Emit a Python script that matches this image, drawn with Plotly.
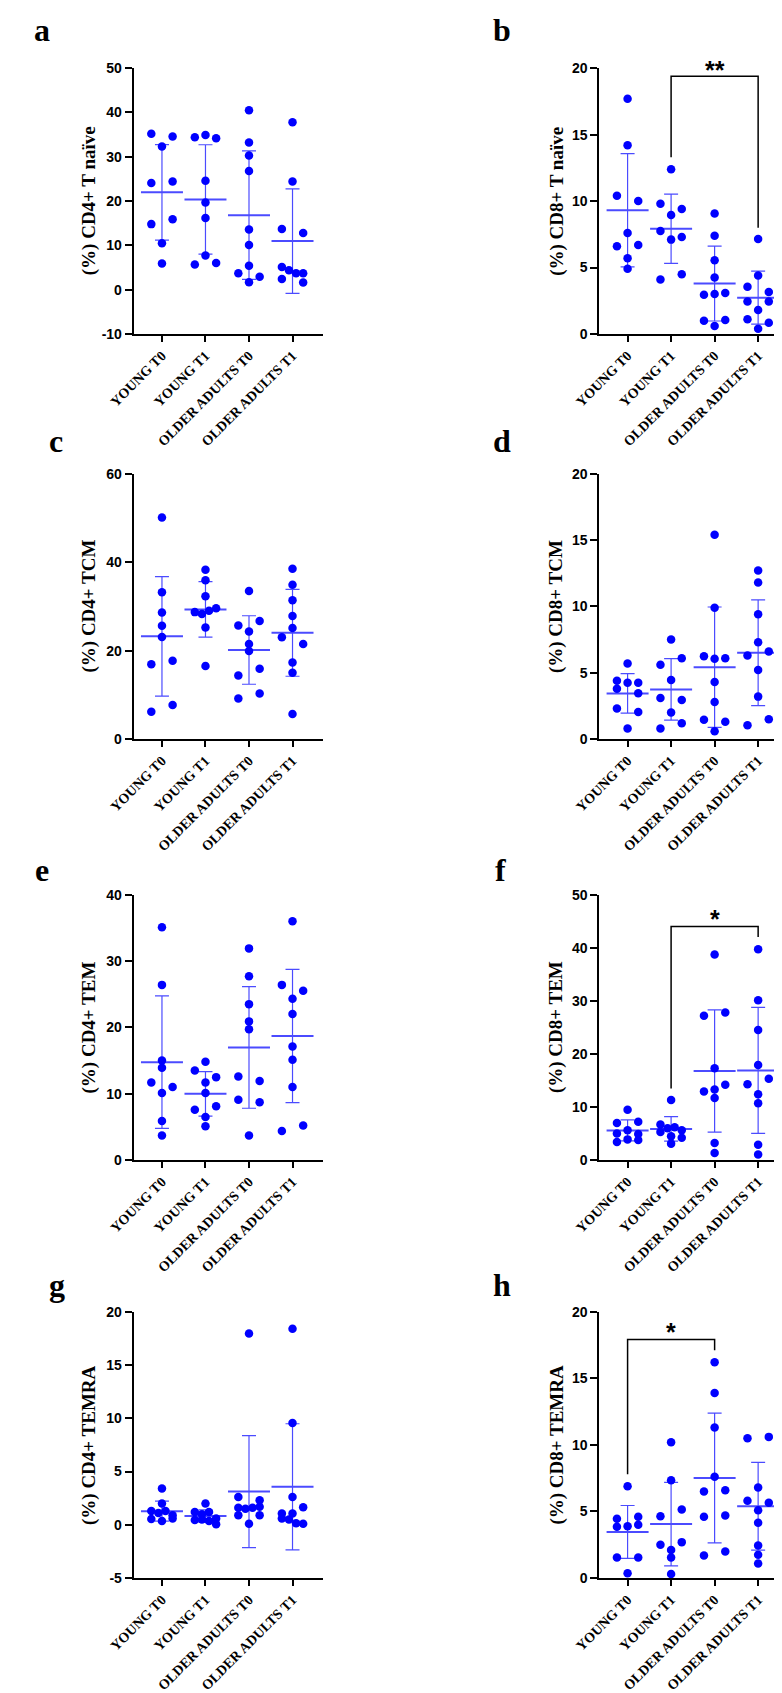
import numpy as np
import plotly.graph_objects as go

# groups on every x axis
GROUPS = ["YOUNG T0", "YOUNG T1", "OLDER ADULTS T0", "OLDER ADULTS T1"]

# values (% of parent population), one list per group
CD4_NAIVE = [
    [35.2, 34.6, 32.3, 24.1, 24.4, 14.8, 15.9, 10.5, 5.9],
    [34.4, 34.9, 34.2, 24.6, 19.7, 16.2, 7.7, 5.7, 6.0],
    [40.5, 33.2, 30.3, 26.8, 13.6, 10.1, 3.7, 5.4, 1.7, 2.9],
    [37.8, 24.4, 13.7, 12.8, 5.1, 4.4, 3.7, 2.4, 3.7, 1.6],
]
CD8_NAIVE = [
    [17.7, 14.2, 10.4, 10.0, 7.6, 6.6, 6.7, 5.7, 4.9],
    [12.4, 9.8, 9.4, 8.95, 7.75, 7.1, 7.3, 4.1, 4.5],
    [9.07, 7.4, 5.55, 4.25, 2.95, 3.0, 3.08, 1.0, 0.6, 1.05],
    [7.15, 4.4, 3.55, 3.15, 2.45, 2.45, 1.8, 1.1, 0.4, 0.85],
]
CD4_TCM = [
    [50.1, 33.2, 28.6, 25.6, 23.1, 16.9, 17.7, 6.2, 7.7],
    [38.3, 35.9, 32.3, 28.7, 28.3, 29.0, 29.6, 25.2, 16.5],
    [33.5, 25.7, 26.7, 24.3, 21.5, 19.9, 14.4, 15.9, 9.2, 10.3],
    [38.5, 34.9, 31.4, 27.8, 25.1, 23.0, 21.5, 17.3, 15.0, 5.7],
]
CD8_TCM = [
    [5.7, 4.4, 4.25, 4.25, 3.8, 3.45, 2.3, 2.05, 0.8],
    [7.5, 5.6, 6.1, 4.45, 3.1, 2.95, 2.0, 0.8, 1.2],
    [15.4, 9.9, 6.25, 6.05, 6.1, 4.3, 2.8, 1.45, 1.3, 0.6],
    [12.7, 11.8, 9.4, 7.3, 6.3, 6.6, 5.2, 3.2, 1.05, 1.5],
]
CD4_TEM = [
    [35.1, 26.4, 13.9, 15.0, 11.7, 10.1, 11.0, 5.9, 3.7],
    [14.8, 13.5, 12.5, 11.7, 10.1, 7.6, 8.1, 6.5, 5.1],
    [31.9, 27.7, 23.5, 20.9, 19.7, 12.6, 11.9, 9.1, 8.7, 3.7],
    [36.0, 26.4, 25.5, 24.3, 22.0, 17.1, 15.1, 11.0, 4.4, 5.2],
]
CD8_TEM = [
    [9.5, 7.0, 7.2, 5.0, 5.6, 4.9, 3.4, 3.9, 3.8],
    [11.3, 6.7, 6.0, 6.2, 5.6, 5.3, 4.5, 4.2, 3.1],
    [38.7, 27.2, 27.8, 17.3, 12.9, 13.3, 14.2, 11.7, 3.2, 1.35],
    [39.7, 30.1, 24.5, 17.9, 14.3, 15.3, 12.4, 10.7, 2.9, 1.05],
]
CD4_TEMRA = [
    [3.4, 2.0, 1.3, 1.1, 1.3, 0.55, 0.9, 0.35, 0.6],
    [2.0, 1.2, 1.0, 1.2, 0.45, 0.6, 0.5, 0.35, 0.05],
    [17.95, 2.6, 2.3, 1.6, 1.5, 1.6, 1.7, 0.9, 0.9, 0.1],
    [18.4, 9.55, 2.6, 1.05, 1.05, 1.65, 0.6, 0.5, 0.15, 0.1],
]
CD8_TEMRA = [
    [6.9, 4.45, 4.6, 3.85, 3.9, 4.0, 1.55, 1.55, 0.37],
    [10.2, 7.35, 4.65, 5.15, 2.5, 2.7, 2.1, 1.55, 0.3],
    [16.2, 13.9, 11.3, 7.6, 6.5, 6.6, 4.6, 4.7, 1.7, 2.0],
    [10.5, 10.6, 6.8, 5.8, 5.65, 5.1, 4.15, 2.45, 1.75, 1.1],
]

BLUE = "#0000ff"
BAR_BLUE = "#4b4bff"
SANS = "Liberation Sans, Arial, sans-serif"
SERIF = "Liberation Serif, Times New Roman, serif"

PANELS = [
    dict(tag="a", title="(%) CD4+ T naïve", data=CD4_NAIVE, yrange=[-10, 50], dtick=10),
    dict(tag="b", title="(%) CD8+ T naïve", data=CD8_NAIVE, yrange=[0, 20], dtick=5),
    dict(tag="c", title="(%) CD4+ TCM", data=CD4_TCM, yrange=[0, 60], dtick=20),
    dict(tag="d", title="(%) CD8+ TCM", data=CD8_TCM, yrange=[0, 20], dtick=5),
    dict(tag="e", title="(%) CD4+ TEM", data=CD4_TEM, yrange=[0, 40], dtick=10),
    dict(tag="f", title="(%) CD8+ TEM", data=CD8_TEM, yrange=[0, 50], dtick=10),
    dict(tag="g", title="(%) CD4+ TEMRA", data=CD4_TEMRA, yrange=[-5, 20], dtick=5),
    dict(tag="h", title="(%) CD8+ TEMRA", data=CD8_TEMRA, yrange=[0, 20], dtick=5),
]

# significance brackets: (left group, right group, left foot, top, right foot, label, label y)
BRACKETS = {
    "b": (1, 3, 13.3, 19.4, 8.0, "**", 19.9),
    "f": (1, 3, 13.5, 44.0, 42.0, "*", 45.4),
    "h": (0, 2, 7.8, 17.9, 17.1, "*", 18.5),
}

# page geometry in pixels
W, H = 782, 1693
COL_X = [(104, 300), (585, 781)]
ROW_Y = [(52.7, 321), (462, 730), (887, 1155), (1308, 1577)]
X_RANGE = [-0.65, 3.71]
TITLE_X = [58, 541]
LETTER_XY = {"a": (9, 14), "b": (485, 14), "c": (24, 429), "d": (485, 429),
             "e": (9, 862), "f": (483, 862), "g": (25, 1281), "h": (485, 1281)}


def swarm_offsets(values, px_per_unit, px_per_cat, thresh=7.0, spread=11.0):
    """Prism-like scatter: near-equal values share a row spread over +-spread px."""
    order = sorted(range(len(values)), key=lambda i: -values[i])
    rows, row = [], []
    for i in order:
        if row and (values[row[0]] - values[i]) * px_per_unit >= thresh:
            rows.append(row)
            row = []
        row.append(i)
    rows.append(row)
    offs = [0.0] * len(values)
    for row in rows:
        row = sorted(row)
        n = len(row)
        for k, i in enumerate(row):
            px = 0.0 if n == 1 else -spread + 2 * spread * k / (n - 1)
            offs[i] = px / px_per_cat
    return offs


fig = go.Figure()
layout = {}
annotations = []
shapes = []

for p, panel in enumerate(PANELS):
    ax = p + 1
    col, row = p % 2, p // 2
    left, right = COL_X[col]
    top, bottom = ROW_Y[row]
    xa, ya = ("x", "y") if ax == 1 else (f"x{ax}", f"y{ax}")
    y0, y1 = panel["yrange"]
    px_per_unit = (bottom - top) / (y1 - y0)
    px_per_cat = (right - left) / (X_RANGE[1] - X_RANGE[0])
    dom_lo, dom_hi = 1 - bottom / H, 1 - top / H

    for g, vals in enumerate(panel["data"]):
        v = np.array(vals)
        mean, sd = v.mean(), v.std(ddof=1)
        fig.add_trace(go.Scatter(
            x=[g], y=[mean], mode="markers", xaxis=xa, yaxis=ya,
            marker=dict(symbol="line-ew", size=30, color=BAR_BLUE,
                        line=dict(width=2, color=BAR_BLUE)),
            error_y=dict(type="data", array=[sd], visible=True, width=7,
                         thickness=1.2, color=BAR_BLUE),
            showlegend=False, hoverinfo="skip", cliponaxis=False,
        ))
        offs = swarm_offsets(vals, px_per_unit, px_per_cat)
        fig.add_trace(go.Scatter(
            x=[g + o for o in offs], y=vals, mode="markers", xaxis=xa, yaxis=ya,
            marker=dict(size=8.5, color=BLUE), showlegend=False, cliponaxis=False,
        ))

    tickvals = list(range(y0, y1 + 1, panel["dtick"]))
    key = "" if ax == 1 else str(ax)
    layout[f"xaxis{key}"] = dict(
        domain=[left / W, right / W], range=X_RANGE, anchor=ya,
        tickvals=[0, 1, 2, 3], ticktext=GROUPS, tickangle=-45,
        ticks="outside", ticklen=6, tickwidth=2, tickcolor="black",
        showline=True, linewidth=2, linecolor="black",
        showgrid=False, zeroline=False,
        tickfont=dict(family=SERIF, size=14, color="black", weight="bold"),
    )
    layout[f"yaxis{key}"] = dict(
        domain=[dom_lo, dom_hi], range=panel["yrange"], anchor=xa,
        tickvals=tickvals, ticktext=[str(t) for t in tickvals],
        ticks="outside", ticklen=7, tickwidth=2, tickcolor="black",
        showline=True, linewidth=2, linecolor="black",
        showgrid=False, zeroline=False,
        tickfont=dict(family=SANS, size=14, color="black", weight="bold"),
    )

    annotations.append(dict(
        text=panel["title"], textangle=-90, xref="paper", yref="paper",
        x=TITLE_X[col] / W, y=(dom_lo + dom_hi) / 2,
        xanchor="center", yanchor="middle", showarrow=False,
        font=dict(family=SERIF, size=19, color="black", weight="bold"),
    ))
    lx, ly = LETTER_XY[panel["tag"]]
    annotations.append(dict(
        text=panel["tag"], xref="paper", yref="paper", x=lx / W, y=1 - ly / H,
        xanchor="center", yanchor="middle", showarrow=False,
        font=dict(family=SERIF, size=32, color="black", weight="bold"),
    ))

    if panel["tag"] in BRACKETS:
        ga, gb, foot_a, top_y, foot_b, label, label_y = BRACKETS[panel["tag"]]
        shapes.append(dict(
            type="path", xref=xa, yref=ya,
            path=f"M {ga},{foot_a} L {ga},{top_y} L {gb},{top_y} L {gb},{foot_b}",
            line=dict(color="black", width=1.5),
        ))
        # label sits above the axis range, so place it in paper units
        annotations.append(dict(
            text=label, xref=xa, yref="paper", x=(ga + gb) / 2,
            y=dom_lo + (label_y - y0) / (y1 - y0) * (dom_hi - dom_lo),
            xanchor="center", yanchor="middle", showarrow=False,
            font=dict(family=SANS, size=25, color="black", weight="bold"),
        ))

fig.update_layout(
    width=W, height=H, autosize=False,
    margin=dict(l=0, r=0, t=0, b=0),
    paper_bgcolor="white", plot_bgcolor="white",
    annotations=annotations, shapes=shapes,
    **layout,
)

fig.write_html("out.html")
